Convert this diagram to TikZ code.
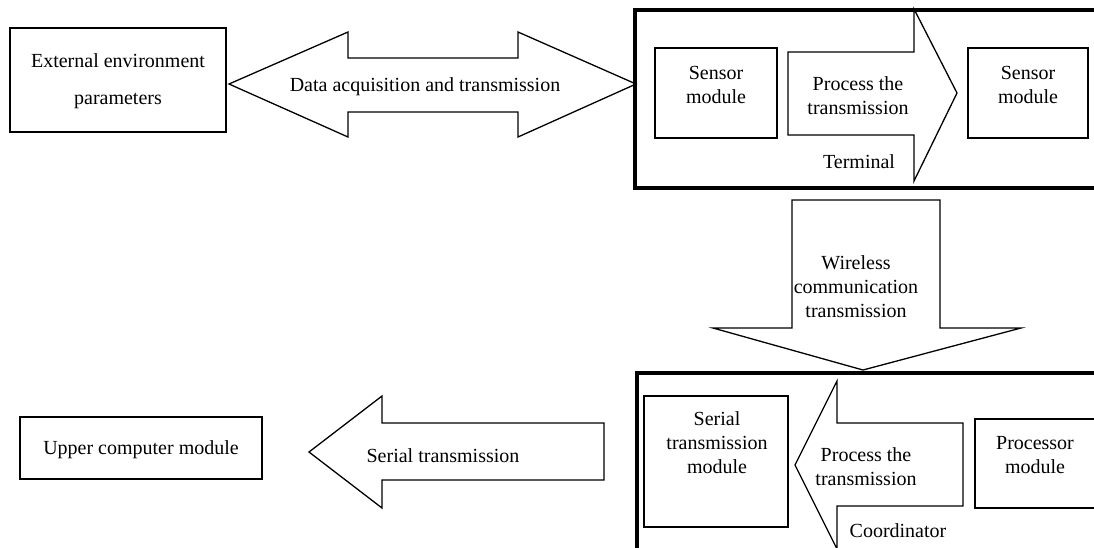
\documentclass[tikz,border=0pt]{standalone}
\usepackage{fontspec}
\setmainfont{Liberation Serif}
\begin{document}
\begin{tikzpicture}[x=1pt,y=-1pt,
  box/.style={draw=black,line width=1.3pt,fill=white},
  frame/.style={draw=black,line width=4pt},
  blockarrow/.style={draw=black,line width=1.3pt,fill=white,line join=miter},
  txt/.style={inner sep=0pt,font=\fontsize{20}{24}\selectfont,align=center}]
\useasboundingbox (0,0) rectangle (1094,547);
\clip (0,0) rectangle (1094,547);
% top left box
\draw[box] (10,28) rectangle (226,132);
\node[txt] (ext1) at (118,61) {External environment};
\node[txt] (ext2) at (118,101) {parameters};
% double arrow
\draw[blockarrow] (229,84) -- (348,32) -- (348,58) -- (518,58) -- (518,32) -- (636,84)
  -- (518,137) -- (518,112) -- (348,112) -- (348,137) -- cycle;
\node[txt] (daq) at (425,87) {Data acquisition and transmission};
% terminal frame
\draw[frame] (635,10) rectangle (1110,188);
\draw[box] (655,48) rectangle (777,138);
\node[txt] (sens1) at (716,85) {Sensor\\module};
\draw[blockarrow] (788,52) -- (914,52) -- (914,9) -- (957,93) -- (914,181) -- (914,135) -- (788,135) -- cycle;
\node[txt] (proc1) at (858,96) {Process the\\transmission};
\node[txt] (term) at (859,162) {Terminal};
\draw[box] (968,48) rectangle (1088,138);
\node[txt] (sens2) at (1028,85) {Sensor\\module};
% down arrow
\draw[blockarrow] (792,200) -- (940,200) -- (940,328) -- (1021,328) -- (863,370) -- (713,328) -- (792,328) -- cycle;
\node[txt] (wl) at (856,287) {Wireless\\communication\\transmission};
% coordinator frame
\draw[frame] (637,373) rectangle (1110,570);
\draw[box] (644,396) rectangle (788,527);
\node[txt] (ser) at (717,443) {Serial\\transmission\\module};
\draw[blockarrow] (795,465) -- (837,381) -- (837,423) -- (963,423) -- (963,506) -- (837,506) -- (837,549) -- cycle;
\node[txt] (proc2) at (866,467) {Process the\\transmission};
\node[txt] (coord) at (898,531) {Coordinator};
\draw[box] (975,419) rectangle (1110,508);
\node[txt] (procm) at (1035,455) {Processor\\module};
% bottom left
\draw[box] (20,417) rectangle (262,479);
\node[txt] (upper) at (141,450) {Upper computer module};
\draw[blockarrow] (309,452) -- (382,396) -- (382,423) -- (604,423) -- (604,480) -- (382,480) -- (382,508) -- cycle;
\node[txt] (sert) at (443,456) {Serial transmission};
\end{tikzpicture}
\end{document}
